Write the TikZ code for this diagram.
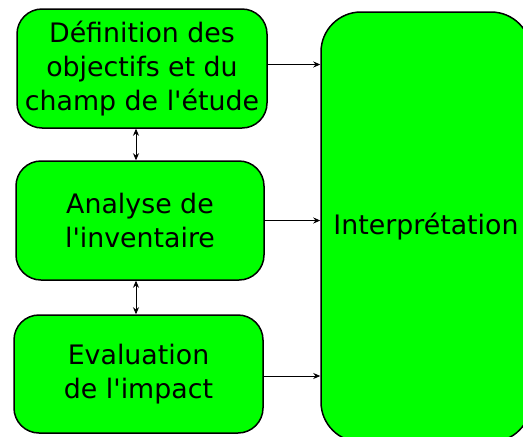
\documentclass[tikz,border=0pt]{standalone}
\usepackage{fontspec}
\setmainfont{DejaVu Sans}
\usetikzlibrary{arrows.meta,positioning}

\tikzset{
  etape/.style={draw, line width=1.5pt, fill={rgb,255:red,0;green,255;blue,0}, rounded corners=25pt,
    align=center, font=\fontsize{26.8}{34}\selectfont},
  fleche/.style={-{Stealth[length=7pt,width=6pt]}, line width=0.8pt},
  double fleche/.style={{Stealth[length=7pt,width=6pt]}-{Stealth[length=7pt,width=6pt]}, line width=0.8pt},
}

\begin{document}
\begin{tikzpicture}[x=1pt, y=-1pt]

  \useasboundingbox (0,0) rectangle (523,437);

  \node[etape, minimum width=250pt, minimum height=119pt] (def) at (142,68.5)
    {Définition des\\objectifs et du\\champ de l\textquotesingle étude};
  \node[etape, minimum width=248pt, minimum height=119pt] (inv) at (140,220.5)
    {Analyse de\\l\textquotesingle inventaire};
  \node[etape, minimum width=249pt, minimum height=118pt] (imp) at (138.5,374)
    {Evaluation\\de l\textquotesingle impact};
  \node[etape, rounded corners=40pt, minimum width=210pt, minimum height=430pt] (int) at (426,227)
    {Interprétation};

  \draw[double fleche] ([xshift=-6pt]def.south) -- ([xshift=-6pt]def.south |- inv.north);
  \draw[double fleche] ([xshift=-4pt]inv.south) -- ([xshift=-4pt]inv.south |- imp.north);

  \draw[fleche] ([yshift=4pt]def.east) -- ([yshift=4pt]def.east -| int.west);
  \draw[fleche] (inv.east) -- (inv.east -| int.west);
  \draw[fleche] ([yshift=-2pt]imp.east) -- ([yshift=-2pt]imp.east -| int.west);

\end{tikzpicture}
\end{document}
